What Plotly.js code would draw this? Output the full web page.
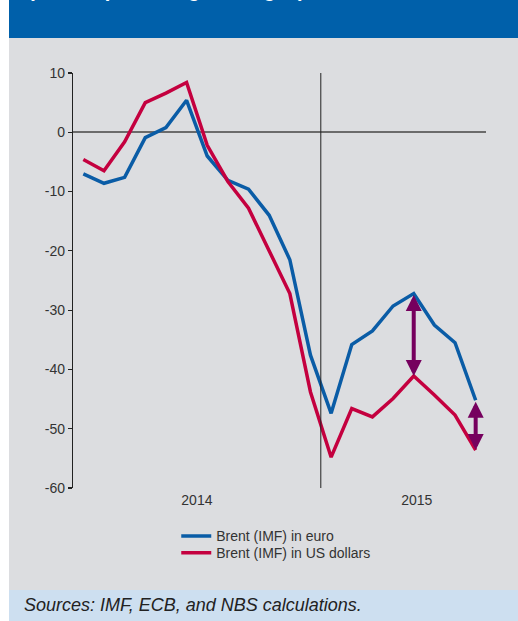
<!DOCTYPE html>
<html>
<head>
<meta charset="utf-8">
<script src="https://cdn.plot.ly/plotly-3.0.1.min.js"></script>
<style>
  html, body { margin: 0; padding: 0; width: 518px; height: 621px; overflow: hidden; background: #ffffff; }
  #frame { position: absolute; left: 9px; top: 0; width: 509px; height: 621px; background: #dcdde0; }
  #header { position: absolute; left: 9px; top: 0; width: 509px; height: 38px; background: #0060aa; overflow: hidden; }
  #header span { position: absolute; left: 19px; top: -20px; font: bold 20px "Liberation Sans", Arial, sans-serif; line-height: 20px; color: #ffffff; white-space: nowrap; }
  #footer { position: absolute; left: 9px; top: 590px; width: 509px; height: 31px; background: #cddff0; overflow: hidden; }
  #footer span { position: absolute; left: 15px; top: 5px; font: italic 18px "Liberation Sans", Arial, sans-serif; color: #222; white-space: nowrap; }
  #chart { position: absolute; left: 0; top: 0; width: 518px; height: 621px; }
</style>
</head>
<body>
<div id="frame"></div>
<div id="header"><span>(annual percentage changes)</span></div>
<div id="footer"><span>Sources: IMF, ECB, and NBS calculations.</span></div>
<div id="chart"></div>
<script>
// Months Jan 2014 .. Aug 2015 (index positions)
const months = [0,1,2,3,4,5,6,7,8,9,10,11,12,13,14,15,16,17,18,19];
const brentEuro = [-7.0, -8.6, -7.6, -0.9, 0.8, 5.4, -4.0, -8.1, -9.6, -14.0,
                   -21.5, -37.6, -47.4, -35.8, -33.5, -29.3, -27.2, -32.5, -35.5, -45.2];
const brentUsd  = [-4.6, -6.5, -1.6, 5.0, 6.6, 8.4, -2.2, -8.3, -12.8, -20.1,
                   -27.2, -43.8, -54.8, -46.6, -48.0, -44.9, -41.1, -44.3, -47.7, -53.6];
const seriesNames = ['Brent (IMF) in euro', 'Brent (IMF) in US dollars'];
const yTickVals = [10, 0, -10, -20, -30, -40, -50, -60];
const yTickText = ['10', '0', '-10', '-20', '-30', '-40', '-50', '-60'];
const yearLabels = ['2014', '2015'];
const yearLabelPos = [5.5, 16.15];
const yearBoundary = 11.5;
const arrowIdx = [16, 19];

const colBlue = '#0a5ca6';
const colRed = '#c4003f';
const colArrow = '#76005e';
const txt = '#333333';
const fontFam = '"Liberation Sans", Arial, sans-serif';

const traces = [
  {x: months, y: brentEuro, name: seriesNames[0], type: 'scatter', mode: 'lines',
   line: {color: colBlue, width: 3.5}, legend: 'legend'},
  {x: months, y: brentUsd, name: seriesNames[1], type: 'scatter', mode: 'lines',
   line: {color: colRed, width: 3.5}, legend: 'legend2'}
];

const annotations = arrowIdx.map(i => ({
  x: months[i], y: brentUsd[i], xref: 'x', yref: 'y',
  ax: months[i], ay: brentEuro[i], axref: 'x', ayref: 'y',
  text: '', showarrow: true, arrowside: 'end+start',
  arrowhead: 2, startarrowhead: 2, arrowsize: 0.8, startarrowsize: 0.8,
  arrowwidth: 4, arrowcolor: colArrow, standoff: 0, startstandoff: 0
}));

const legendBase = {x: 0.25, xanchor: 'left', yanchor: 'top',
                    bgcolor: 'rgba(0,0,0,0)', font: {size: 14, color: txt}};

const layout = {
  width: 518, height: 621,
  margin: {l: 73, r: 32, t: 73, b: 133, pad: 0},
  paper_bgcolor: 'rgba(0,0,0,0)',
  plot_bgcolor: 'rgba(0,0,0,0)',
  font: {family: fontFam, size: 14, color: txt},
  showlegend: true,
  legend: Object.assign({}, legendBase, {y: -0.0778}),
  legend2: Object.assign({}, legendBase, {y: -0.1185}),
  xaxis: {range: [-0.5, 19.5], showgrid: false, zeroline: false, showline: false,
          tickmode: 'array', tickvals: yearLabelPos, ticktext: yearLabels,
          ticks: '', ticklabelstandoff: 2, tickfont: {size: 14, color: txt}, fixedrange: true},
  yaxis: {range: [-60, 10], tickmode: 'array', tickvals: yTickVals, ticktext: yTickText,
          showgrid: false,
          showline: true, linecolor: '#222', linewidth: 1.2,
          ticks: 'outside', ticklen: 4, tickwidth: 1.2, tickcolor: '#222',
          zeroline: true, zerolinecolor: '#6b6b6b', zerolinewidth: 2,
          tickfont: {size: 14, color: txt}, fixedrange: true},
  shapes: [
    {type: 'line', xref: 'x', yref: 'y', x0: yearBoundary, x1: yearBoundary, y0: -60.2, y1: 10,
     line: {color: '#222', width: 1}}
  ],
  annotations: annotations
};

Plotly.newPlot('chart', traces, layout, {displayModeBar: false, staticPlot: true});
</script>
</body>
</html>
